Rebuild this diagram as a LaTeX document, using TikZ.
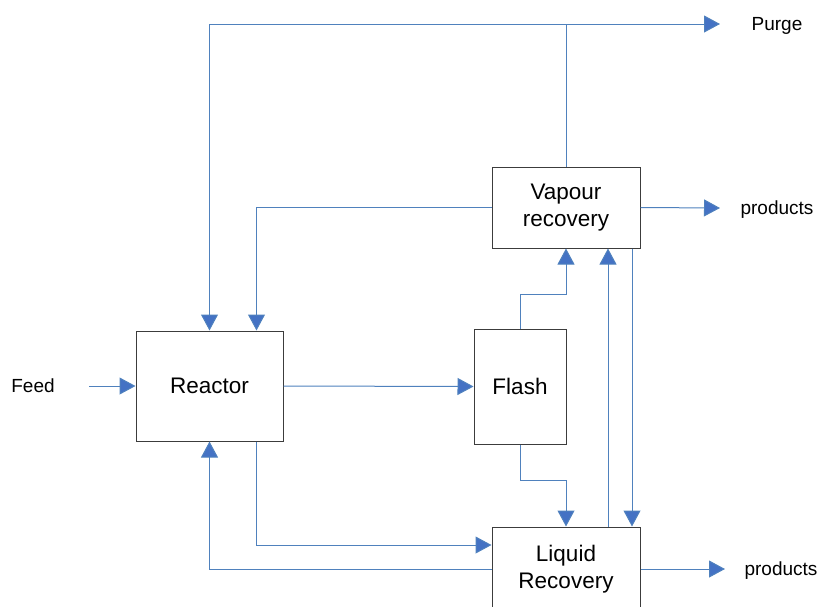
\documentclass[tikz,border=0pt]{standalone}
\usepackage{fontspec}
\setmainfont{Liberation Sans}
\usetikzlibrary{arrows.meta}
\definecolor{flowblue}{RGB}{79,129,189}
\definecolor{tipblue}{RGB}{68,114,196}
\definecolor{boxgrey}{RGB}{60,60,60}
\tikzset{
	unit/.style={draw=boxgrey,line width=1pt,fill=white,align=center,inner sep=0pt,
		font=\fontsize{22.5}{27}\selectfont},
	lbl/.style={font=\fontsize{19}{23}\selectfont,inner sep=0pt},
	flow/.style={draw=flowblue,line width=1pt,-{Triangle[length=16pt,width=17pt,fill=tipblue]}}
}

\begin{document}
\begin{tikzpicture}[x=1pt,y=-1pt]
	\useasboundingbox (0,0) rectangle (821,606);
		\node[unit,minimum width=147pt,minimum height=110pt] (reactor) at (209.5,386) {Reactor};
		\node[unit,minimum width=92pt,minimum height=115pt] (flash) at (520,386.5) {Flash};
		\node[unit,minimum width=148pt,minimum height=81pt] (vapour) at (566,207.5) {Vapour\\recovery};
		\node[unit,minimum width=148pt,minimum height=84pt] (liquid) at (566,569) {Liquid\\Recovery};
			\node[lbl] (feed) at (33,386) {Feed};
			\node[lbl] (purge) at (777,25.5) {Purge};
			\node[lbl] (vprod) at (777,209.5) {products};
			\node[lbl] (lprod) at (781,570.5) {products};
		\coordinate (feedin) at (89,386);
		\coordinate (purgetip) at (720,24);
		\coordinate (vprodtip) at (720,208);
		\coordinate (lprodtip) at (725,569);
			\draw[flow] (feedin) -- (reactor.west);
			\draw[flow] (vapour.north) |- (purgetip);
			\draw[flow] (vapour.north |- purgetip) -| (reactor.north);
			\draw[flow] (vapour.west) -| ([xshift=-27pt]reactor.north east);
			\draw[flow] (vapour.east) -- (vprodtip);
			\draw[flow] (reactor.east) -- (flash.west);
			\draw[flow] (flash.north) -- ++(0,-34) -| (vapour.south);
			\draw[flow] ([xshift=42pt]liquid.north) -- ([xshift=42pt]vapour.south);
			\draw[flow] ([xshift=66pt]vapour.south) -- ([xshift=66pt]liquid.north);
			\draw[flow] (flash.south) -- ++(0,36) -| (liquid.north);
			\draw[flow] ([xshift=-27pt]reactor.south east) |- ([yshift=24pt]liquid.west);
			\draw[flow] (liquid.west) -| (reactor.south);
			\draw[flow] (liquid.east) -- (lprodtip);
\end{tikzpicture}
\end{document}
